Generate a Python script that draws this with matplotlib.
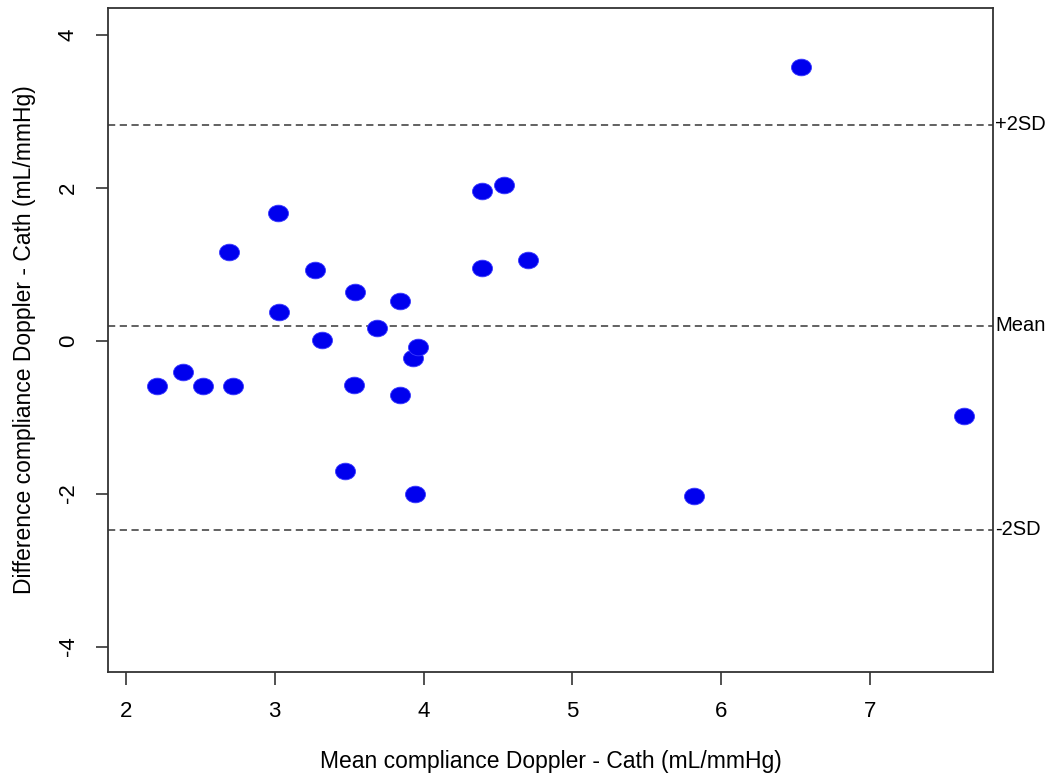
import numpy as np
import matplotlib.pyplot as plt
from matplotlib.markers import MarkerStyle
from matplotlib.transforms import Affine2D

plt.rcParams['font.family'] = ['Liberation Sans', 'DejaVu Sans']
plt.rcParams['axes.unicode_minus'] = False

# Bland-Altman data
mean_vals = [2.21, 2.38, 2.52, 2.72, 2.69, 3.02, 3.03, 3.27, 3.32, 3.54, 3.53, 3.47,
             3.69, 3.84, 3.84, 3.93, 3.96, 3.94, 4.39, 4.54, 4.39, 4.70, 5.82, 6.54, 7.63]
diff_vals = [-0.60, -0.41, -0.60, -0.60, 1.16, 1.67, 0.37, 0.92, 0.01, 0.64, -0.58, -1.70,
             0.16, 0.52, -0.71, -0.23, -0.09, -2.00, 1.95, 2.03, 0.95, 1.05, -2.03, 3.58, -0.99]
limit_vals = [2.82, 0.196, -2.47]
limit_labels = ['+2SD', 'Mean', '-2SD']

fig = plt.figure(figsize=(10.5, 7.83), dpi=100)
ax = fig.add_axes([0.103, 0.142, 0.843, 0.848])

mk = MarkerStyle('o', transform=Affine2D().scale(1.2, 1.0))
ax.plot(mean_vals, diff_vals, linestyle='none', marker=mk, ms=12,
        color='#0000ee', markeredgecolor='#3a3aff', markeredgewidth=0.6, zorder=3)

for v, lab in zip(limit_vals, limit_labels):
    ax.axhline(v, color='#555555', linestyle=(0, (4, 2.5)), linewidth=1.3)
    ax.text(1.002, v, lab, transform=ax.get_yaxis_transform(), fontsize=14.5,
            va='center', ha='left')

ax.set_xlim(1.88, 7.83)
ax.set_ylim(-4.33, 4.35)
ax.set_xticks([2, 3, 4, 5, 6, 7])
ax.set_yticks([-4, -2, 0, 2, 4])
ax.tick_params(axis='both', labelsize=16, length=9, width=1.2, color='#333333', pad=12)
plt.setp(ax.get_yticklabels(), rotation=90, va='center')
for s in ax.spines.values():
    s.set_linewidth(1.3)
    s.set_color('#333333')

ax.set_xlabel('Mean compliance Doppler - Cath (mL/mmHg)', fontsize=16.5, labelpad=20)
ax.set_ylabel('Difference compliance Doppler - Cath (mL/mmHg)', fontsize=16.5, labelpad=16)

fig.savefig('out.png', dpi=100)
